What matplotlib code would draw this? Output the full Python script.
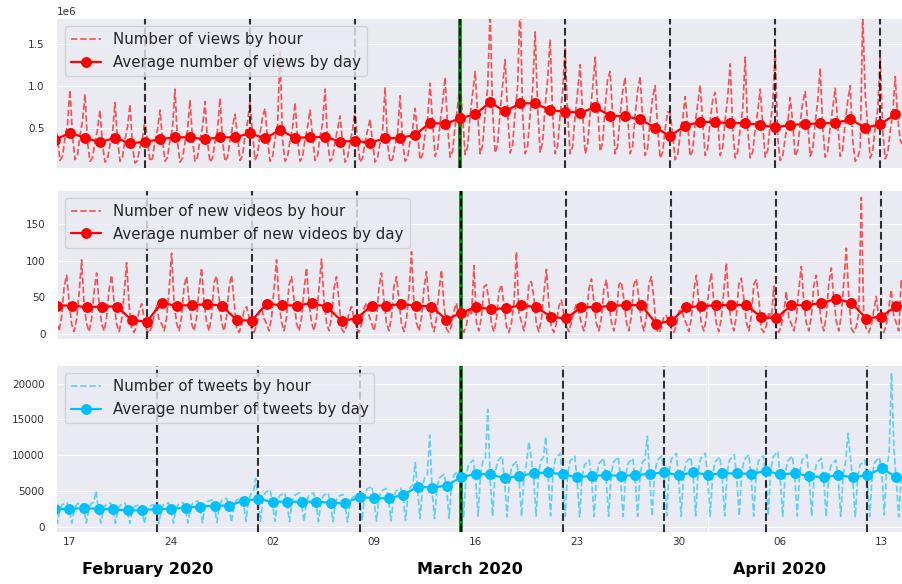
import numpy as np
import pandas as pd
import matplotlib
matplotlib.use("Agg")
import matplotlib.pyplot as plt
import matplotlib.dates as mdates
import matplotlib.transforms as mtransforms
from matplotlib.ticker import NullFormatter
import seaborn as sns

# ---------------- data ----------------
# views (millions), one value every 4 hours starting 2020-02-17 00:00
views_hourly = [
    0.55, 0.38, 0.11, 0.16, 0.38, 0.54,
    0.95, 0.41, 0.12, 0.17, 0.41, 0.58,
    0.90, 0.33, 0.10, 0.14, 0.33, 0.48,
    0.71, 0.30, 0.09, 0.13, 0.30, 0.43,
    0.80, 0.36, 0.10, 0.15, 0.36, 0.51,
    0.78, 0.27, 0.08, 0.11, 0.27, 0.38,
    0.60, 0.34, 0.10, 0.14, 0.34, 0.48,
    0.71, 0.35, 0.10, 0.15, 0.35, 0.50,
    0.96, 0.33, 0.09, 0.14, 0.33, 0.47,
    0.83, 0.36, 0.10, 0.15, 0.36, 0.51,
    0.81, 0.33, 0.09, 0.14, 0.33, 0.47,
    0.85, 0.35, 0.10, 0.15, 0.35, 0.51,
    0.66, 0.40, 0.11, 0.17, 0.40, 0.57,
    0.81, 0.43, 0.12, 0.18, 0.43, 0.62,
    0.73, 0.36, 0.10, 0.16, 0.36, 0.52,
    1.40, 0.35, 0.10, 0.15, 0.35, 0.50,
    0.80, 0.36, 0.10, 0.15, 0.36, 0.51,
    0.71, 0.39, 0.11, 0.17, 0.39, 0.55,
    0.96, 0.34, 0.10, 0.14, 0.34, 0.48,
    0.64, 0.33, 0.09, 0.14, 0.33, 0.47,
    0.71, 0.33, 0.09, 0.14, 0.33, 0.47,
    0.60, 0.32, 0.09, 0.14, 0.32, 0.46,
    0.98, 0.30, 0.09, 0.13, 0.30, 0.43,
    0.88, 0.34, 0.10, 0.14, 0.34, 0.48,
    0.73, 0.42, 0.12, 0.18, 0.42, 0.60,
    1.03, 0.56, 0.16, 0.24, 0.56, 0.80,
    1.10, 0.52, 0.15, 0.22, 0.52, 0.75,
    1.03, 0.64, 0.18, 0.27, 0.64, 0.91,
    1.17, 0.67, 0.19, 0.29, 0.67, 0.96,
    1.90, 0.70, 0.20, 0.30, 0.70, 1.00,
    1.31, 0.69, 0.20, 0.29, 0.69, 0.99,
    2.00, 0.66, 0.19, 0.28, 0.66, 0.95,
    1.64, 0.75, 0.21, 0.32, 0.75, 1.07,
    1.55, 0.65, 0.19, 0.28, 0.65, 0.93,
    1.45, 0.65, 0.19, 0.28, 0.65, 0.93,
    1.25, 0.68, 0.19, 0.29, 0.68, 0.97,
    1.34, 0.75, 0.22, 0.32, 0.75, 1.08,
    1.17, 0.65, 0.19, 0.28, 0.65, 0.93,
    1.10, 0.65, 0.19, 0.28, 0.65, 0.94,
    1.11, 0.60, 0.17, 0.26, 0.60, 0.86,
    1.00, 0.48, 0.14, 0.21, 0.48, 0.69,
    0.67, 0.42, 0.12, 0.18, 0.42, 0.60,
    0.87, 0.55, 0.16, 0.23, 0.55, 0.78,
    1.01, 0.58, 0.17, 0.25, 0.58, 0.83,
    0.92, 0.60, 0.17, 0.26, 0.60, 0.86,
    1.26, 0.49, 0.14, 0.21, 0.49, 0.71,
    1.34, 0.48, 0.14, 0.21, 0.48, 0.69,
    0.96, 0.54, 0.15, 0.23, 0.54, 0.77,
    1.43, 0.38, 0.11, 0.16, 0.38, 0.55,
    0.86, 0.56, 0.16, 0.24, 0.56, 0.80,
    0.93, 0.56, 0.16, 0.24, 0.56, 0.81,
    1.21, 0.51, 0.15, 0.22, 0.51, 0.73,
    0.97, 0.57, 0.16, 0.24, 0.57, 0.82,
    1.00, 0.35, 0.10, 0.15, 0.25, 1.85,
    0.90, 0.51, 0.14, 0.22, 0.51, 0.72,
    1.33, 0.46, 0.13, 0.20, 0.46, 0.66,
    1.11, 0.62, 0.35, 0.30,
]
# daily average views (millions), from 2020-02-17
views_daily = [
    0.354, 0.44, 0.38, 0.326, 0.38, 0.314, 0.333, 0.362, 0.386, 0.386, 0.362, 0.386, 0.386,
    0.433, 0.373, 0.473, 0.38, 0.386, 0.393, 0.333, 0.345, 0.321, 0.373, 0.38, 0.413, 0.56,
    0.544, 0.612, 0.659, 0.802, 0.695, 0.79, 0.79, 0.707, 0.69, 0.679, 0.743, 0.643, 0.635,
    0.6, 0.5, 0.401, 0.524, 0.568,
    0.568, 0.552, 0.556, 0.532, 0.504, 0.532, 0.544, 0.552, 0.556, 0.6, 0.5, 0.54, 0.659,
]

# new videos, one value every 4 hours starting 2020-02-17 00:00
videos_hourly = [
    15, 4, 23, 64, 80, 45,
    13, 3, 20, 56, 101, 39,
    14, 3, 20, 58, 83, 41,
    14, 4, 22, 61, 80, 43,
    13, 3, 19, 54, 97, 38,
    7, 2, 11, 31, 41, 22,
    6, 1, 9, 25, 40, 18,
    14, 4, 21, 60, 110, 42,
    15, 4, 23, 65, 78, 46,
    14, 4, 22, 61, 90, 43,
    16, 4, 25, 70, 79, 49,
    15, 4, 23, 64, 80, 45,
    8, 2, 12, 33, 37, 23,
    7, 2, 11, 30, 35, 21,
    14, 4, 22, 61, 101, 43,
    16, 4, 23, 67, 78, 47,
    14, 4, 21, 60, 90, 42,
    15, 4, 22, 63, 102, 45,
    15, 4, 22, 62, 78, 44,
    7, 2, 10, 29, 37, 21,
    8, 2, 13, 35, 42, 25,
    15, 4, 22, 63, 83, 45,
    15, 4, 23, 65, 78, 46,
    13, 3, 20, 56, 112, 39,
    15, 4, 22, 62, 85, 44,
    14, 3, 21, 58, 87, 41,
    7, 2, 11, 31, 42, 22,
    8, 2, 12, 35, 25, 93,
    15, 4, 23, 64, 67, 45,
    13, 3, 20, 57, 67, 40,
    10, 2, 15, 42, 112, 29,
    16, 4, 25, 70, 71, 49,
    13, 3, 20, 55, 88, 39,
    9, 2, 14, 38, 46, 27,
    10, 3, 16, 30, 40, 29,
    14, 4, 22, 61, 75, 43,
    14, 4, 22, 61, 74, 43,
    16, 4, 24, 67, 71, 47,
    16, 4, 24, 68, 75, 48,
    16, 4, 23, 67, 78, 47,
    6, 1, 8, 24, 25, 17,
    7, 2, 11, 31, 33, 22,
    14, 3, 21, 59, 80, 42,
    14, 4, 21, 61, 83, 43,
    14, 3, 21, 58, 97, 41,
    16, 4, 24, 68, 76, 48,
    16, 4, 24, 68, 74, 48,
    7, 2, 11, 30, 21, 65,
    7, 2, 11, 30, 58, 21,
    14, 4, 21, 61, 92, 43,
    15, 4, 23, 66, 80, 46,
    16, 4, 24, 68, 90, 48,
    17, 4, 25, 72, 117, 51,
    7, 2, 10, 29, 186, 20,
    7, 2, 11, 32, 51, 22,
    8, 2, 12, 35, 60, 24,
    15, 4, 74, 50,
]
videos_daily = [
    38.6, 38.6, 36.4, 37.3, 37.3, 19.1, 16.4, 41.8, 38.6, 39.1, 40.5, 38.6, 19.1,
    17.7, 40.9, 39.1, 38.6, 41.8, 37.3, 17.7, 20.9, 38.6, 38.6, 40.5, 38.6, 37.3, 19.1,
    29.1, 36.4, 33.6, 35.0, 39.1, 36.4, 22.7, 21.4, 36.4, 36.4, 38.2, 39.1, 39.1, 13.6,
    17.7, 36.4, 37.7,
    39.1, 39.5, 39.1, 22.7, 21.4, 39.1, 39.1, 41.8, 47.7, 42.3, 20.9, 23.6, 37.7,
]

# tweets, one value every 4 hours starting 2020-02-16 00:00
tweets_hourly = [
    2220, 490, 2470, 3090, 3210, 3330,
    2250, 520, 2400, 3150, 3250, 3300,
    2350, 520, 2610, 3260, 3390, 4990,
    2220, 490, 2470, 3090, 3210, 3330,
    2180, 480, 2420, 3030, 3150, 3270,
    2050, 460, 2280, 2850, 2960, 3080,
    2100, 450, 2300, 2800, 3000, 3100,
    2220, 500, 2470, 3100, 3200, 3330,
    2230, 490, 2450, 3090, 3220, 3340,
    2390, 530, 2660, 3330, 3460, 3590,
    2520, 560, 2800, 3500, 3640, 3780,
    2650, 590, 2940, 3680, 3820, 3970,
    2640, 600, 2950, 3670, 3830, 3960,
    3270, 730, 3630, 4540, 4720, 6760,
    3450, 770, 3830, 4790, 4980, 5170,
    3140, 700, 3490, 4360, 4540, 4710,
    3150, 690, 3500, 4350, 4550, 4700,
    3140, 700, 3480, 4370, 4530, 4720,
    3140, 710, 3490, 4360, 4540, 4710,
    3020, 670, 3350, 4190, 4360, 4520,
    2930, 650, 3260, 4080, 4240, 4400,
    3770, 840, 4190, 5240, 5450, 5660,
    3560, 790, 3960, 4950, 5150, 5350,
    3570, 800, 3950, 4960, 5140, 5360,
    3990, 890, 4430, 5540, 5760, 8940,
    5030, 1120, 5590, 6990, 7270, 12800,
    4910, 1090, 5450, 6810, 7090, 7360,
    5200, 1160, 5780, 7230, 7510, 7800,
    6210, 1380, 6900, 8630, 8970, 9320,
    6620, 1470, 7360, 9200, 9570, 16400,
    6580, 1460, 7310, 9140, 9500, 9870,
    6080, 1350, 6760, 8450, 8790, 9130,
    6370, 1420, 7080, 8850, 11870, 9560,
    6710, 1490, 7450, 9310, 9690, 12570,
    6830, 1520, 7590, 9490, 9870, 10250,
    6580, 1460, 7310, 9140, 9500, 9870,
    6210, 1380, 6900, 8630, 8970, 9320,
    6370, 1420, 7080, 8850, 9200, 9560,
    6500, 1440, 7220, 9030, 9390, 9750,
    6370, 1420, 7080, 8850, 9200, 9560,
    6500, 1440, 7220, 9030, 9390, 12640,
    6620, 1470, 7360, 9200, 9570, 9940,
    6830, 1520, 7590, 9490, 9870, 10250,
    6460, 1440, 7180, 8980, 9330, 9690,
    6830, 1520, 7590, 9490, 9870, 10250,
    6500, 1440, 7220, 9030, 9390, 9750,
    6710, 1490, 7450, 9310, 9690, 10060,
    6710, 1490, 7450, 9310, 9690, 10060,
    6620, 1470, 7360, 9200, 9570, 9940,
    7000, 1560, 7780, 9730, 10110, 10500,
    6580, 1460, 7310, 9140, 9500, 9870,
    6710, 1490, 7450, 9310, 9690, 10060,
    6370, 1420, 7080, 8850, 9200, 9560,
    6210, 1380, 6900, 8630, 8970, 9320,
    6460, 1440, 7180, 8980, 13050, 9690,
    6210, 1380, 6900, 8630, 8970, 9320,
    6460, 1440, 7180, 8980, 9330, 9690,
    7340, 1630, 8160, 10200, 21500, 11020,
    6210, 1380, 6900,
]
# daily average tweets, from 2020-02-16
tweets_daily = [
    2470, 2470, 2610, 2470, 2420, 2280, 2280, 2470, 2470, 2660, 2800, 2940, 2940, 3630,
    3830, 3490, 3490, 3490, 3490, 3350, 3260, 4190, 3960, 3960, 4430, 5590, 5450, 5750,
    6900, 7360, 7310, 6760, 7080, 7450, 7590, 7310, 6900, 7080, 7220, 7080, 7220, 7360,
    7590, 7180, 7590,
    7220, 7450, 7450, 7360, 7780, 7310, 7450, 7080, 6900, 7180, 6900, 7180, 8160, 6900,
]

week_lines = ["2020-02-23", "2020-03-01", "2020-03-08", "2020-03-15",
              "2020-03-22", "2020-03-29", "2020-04-05", "2020-04-12"]
highlight_day = "2020-03-15"
month_labels = ["February 2020", "March 2020", "April 2020"]

labels = [
    ("Number of views by hour", "Average number of views by day"),
    ("Number of new videos by hour", "Average number of new videos by day"),
    ("Number of tweets by hour", "Average number of tweets by day"),
]

# ---------------- plotting ----------------
sns.set_style("darkgrid")
plt.rcParams["font.family"] = ["DejaVu Sans"]

fig = plt.figure(figsize=(9.02, 5.84), dpi=100)
ax1 = fig.add_axes([0.0635, 0.7118, 0.9365, 0.2557])
ax2 = fig.add_axes([0.0643, 0.4190, 0.9357, 0.2545])
ax3 = fig.add_axes([0.0632, 0.0896, 0.9368, 0.2837])

t_views_h = pd.date_range("2020-02-17", periods=len(views_hourly), freq="4h")
t_views_d = pd.date_range("2020-02-17", periods=len(views_daily), freq="D")
t_vid_h = pd.date_range("2020-02-17", periods=len(videos_hourly), freq="4h")
t_vid_d = pd.date_range("2020-02-17", periods=len(videos_daily), freq="D")
t_tw_h = pd.date_range("2020-02-16", periods=len(tweets_hourly), freq="4h")
t_tw_d = pd.date_range("2020-02-16", periods=len(tweets_daily), freq="D")

series = [
    (ax1, t_views_h, np.array(views_hourly) * 1e6, t_views_d, np.array(views_daily) * 1e6,
     "red", "red", 0.65),
    (ax2, t_vid_h, videos_hourly, t_vid_d, videos_daily, "red", "red", 0.65),
    (ax3, t_tw_h, tweets_hourly, t_tw_d, tweets_daily, "deepskyblue", "deepskyblue", 0.6),
]

for (ax, th, yh, td, yd, ch, cd, al), (lh, ld) in zip(series, labels):
    ax.plot(th, yh, ls="--", color=ch, alpha=al, lw=1.25, label=lh, zorder=2.2)
    ax.plot(td, yd, "-o", color=cd, lw=1.6, ms=6.8, label=ld, zorder=3)
    ax.axvline(pd.Timestamp(highlight_day), color="green", lw=2.6, zorder=2.4)
    for w in week_lines:
        ax.axvline(pd.Timestamp(w), color="black", ls="--", lw=1.5, alpha=0.8, zorder=2.5)
    ax.legend(loc="upper left", fontsize=10.8)
    ax.tick_params(axis="y", length=0, pad=9, labelsize=7.5, labelcolor="#333333")
    for sp in ax.spines.values():
        sp.set_visible(False)

ax1.set_xlim(pd.Timestamp("2020-02-17 03:40"), pd.Timestamp("2020-04-13 10:50"))
ax2.set_xlim(pd.Timestamp("2020-02-17 02:10"), pd.Timestamp("2020-04-13 09:10"))
ax3.set_xlim(pd.Timestamp("2020-02-16 03:20"), pd.Timestamp("2020-04-14 09:20"))

ax1.set_ylim(0.017e6, 1.794e6)
ax2.set_ylim(-7.5, 195.5)
ax3.set_ylim(-700, 22450)

ax1.set_yticks([0.5e6, 1.0e6, 1.5e6])
ax2.set_yticks([0, 50, 100, 150])
ax3.set_yticks([0, 5000, 10000, 15000, 20000])
ax1.yaxis.get_offset_text().set_fontsize(7.5)
ax1.yaxis.get_offset_text().set_color("#333333")

ax1.set_xticks([])
ax2.set_xticks([])

ax3.xaxis.set_major_locator(mdates.MonthLocator())
ax3.xaxis.set_major_formatter(NullFormatter())
ax3.xaxis.set_minor_locator(mdates.WeekdayLocator(byweekday=mdates.MO))
ax3.xaxis.set_minor_formatter(mdates.DateFormatter("%d"))
ax3.tick_params(axis="x", which="both", length=0, pad=4, labelsize=7.5, labelcolor="#333333")

trans = mtransforms.blended_transform_factory(ax3.transData, ax3.transAxes)
month_x = ["2020-02-22 09:00", "2020-03-15 14:00", "2020-04-05 23:00"]
for mx, ml in zip(month_x, month_labels):
    ax3.text(mdates.date2num(pd.Timestamp(mx)), -0.231, ml, transform=trans,
             ha="center", va="center", fontsize=11.5, fontweight="bold", color="black")

fig.savefig("out.png", dpi=100)
